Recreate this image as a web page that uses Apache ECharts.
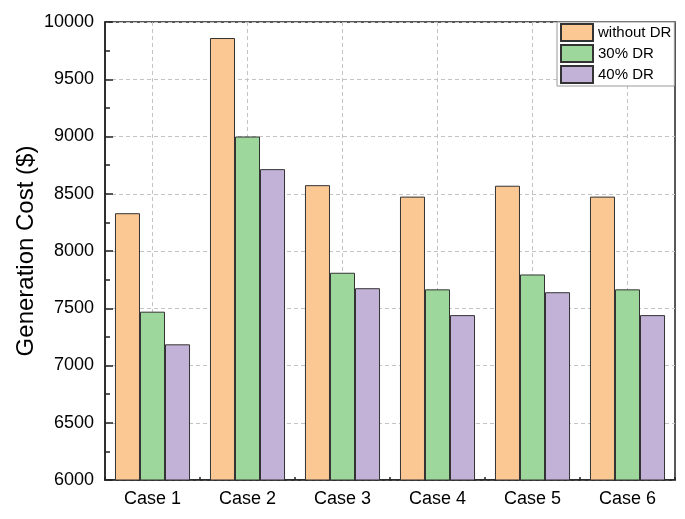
<!DOCTYPE html>
<html>
<head>
<meta charset="utf-8">
<script src="https://cdn.jsdelivr.net/npm/echarts@6/dist/echarts.min.js"></script>
<style>
html,body{margin:0;padding:0;background:#fff;}
#chart{width:685px;height:519px;}
</style>
</head>
<body>
<div id="chart"></div>
<script>
const categories = ['Case 1', 'Case 2', 'Case 3', 'Case 4', 'Case 5', 'Case 6'];
const seriesNames = ['without DR', '30% DR', '40% DR'];
const withoutDR = [8330, 9860, 8575, 8475, 8570, 8475];
const dr30 = [7470, 9000, 7810, 7665, 7795, 7665];
const dr40 = [7185, 8715, 7675, 7440, 7640, 7440];
const colors = ['#FBC793', '#9ED79B', '#C3B2D7'];
const yMin = 6000, yMax = 10000, yInterval = 500;

const chart = echarts.init(document.getElementById('chart'), null, {renderer: 'canvas'});
const font = 'Liberation Sans, Arial, sans-serif';
const dataSets = [withoutDR, dr30, dr40];
// helper half-step axis so grid lines / major ticks sit at category centres
const halfSteps = [];
for (let i = 0; i <= categories.length * 2; i++) halfSteps.push(String(i));
const atCentre = (idx) => idx % 2 === 1;

chart.setOption({
  animation: false,
  backgroundColor: '#fff',
  textStyle: {fontFamily: font},
  grid: {left: 105, right: 10, top: 22, bottom: 39, containLabel: false, outerBoundsMode: 'none',
         show: true, borderColor: '#222', borderWidth: 1.5, backgroundColor: 'transparent'},
  legend: {
    data: seriesNames,
    orient: 'vertical',
    left: 557, top: 22,
    itemWidth: 32, itemHeight: 17, itemGap: 2,
    padding: [1, 3, 2, 3],
    borderColor: '#999', borderWidth: 1,
    backgroundColor: '#fff',
    icon: 'rect',
    textStyle: {fontSize: 15, color: '#000', fontFamily: font}
  },
  xAxis: [
    {
      type: 'category',
      data: categories,
      boundaryGap: true,
      axisLine: {show: true, onZero: false, lineStyle: {color: '#222', width: 1.5}},
      axisTick: {show: true, inside: true, length: 3, lineStyle: {color: '#222', width: 1.5}},
      axisLabel: {fontSize: 18, color: '#000', margin: 10, fontFamily: font},
      splitLine: {show: false}
    },
    {
      type: 'category',
      data: halfSteps,
      boundaryGap: false,
      position: 'bottom',
      axisLine: {show: false, onZero: false},
      axisLabel: {show: false},
      axisTick: {show: true, inside: true, length: 7, interval: atCentre, lineStyle: {color: '#222', width: 1.5}},
      splitLine: {show: true, interval: atCentre, lineStyle: {color: '#c4c4c4', type: [4, 3], width: 1}}
    }
  ],
  yAxis: {
    type: 'value',
    min: yMin, max: yMax, interval: yInterval,
    name: 'Generation Cost ($)',
    nameLocation: 'middle',
    nameGap: 67,
    nameMoveOverlap: false,
    nameTextStyle: {fontSize: 24, color: '#000', fontFamily: font},
    axisLine: {show: true, onZero: false, lineStyle: {color: '#222', width: 1.5}},
    axisTick: {show: true, inside: true, length: 8, lineStyle: {color: '#222', width: 1.5}},
    minorTick: {show: true, splitNumber: 2, length: 5, lineStyle: {color: '#222', width: 1.5}},
    axisLabel: {fontSize: 18, color: '#000', margin: 11, fontFamily: font, formatter: (v) => String(v)},
    splitLine: {show: true, lineStyle: {color: '#c4c4c4', type: [4, 3], width: 1}}
  },
  series: seriesNames.map((n, i) => ({
    name: n,
    type: 'bar',
    xAxisIndex: 0,
    data: dataSets[i],
    barGap: '0%',
    barCategoryGap: '21%',
    itemStyle: {color: colors[i], borderColor: '#333', borderWidth: 1}
  }))
});
</script>
</body>
</html>
